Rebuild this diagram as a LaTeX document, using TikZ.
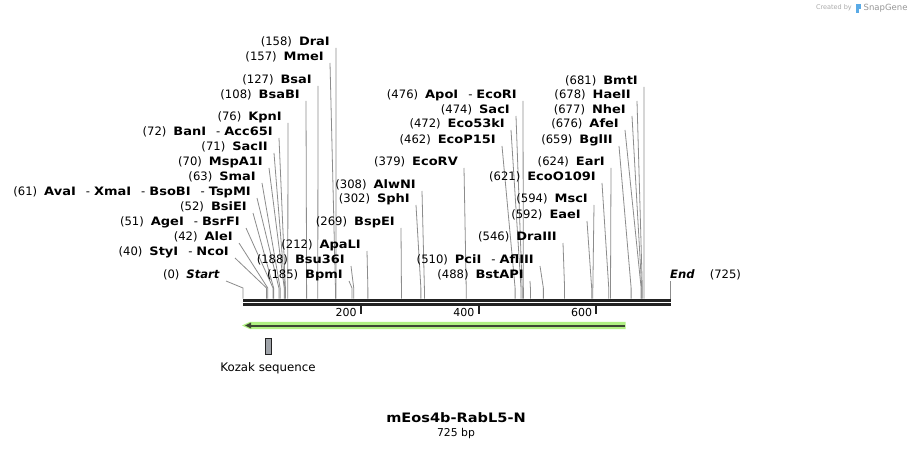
\documentclass[tikz,border=0pt]{standalone}
\usepackage{fontspec}
\setmainfont{DejaVu Sans}[BoldFeatures={FakeStretch=1.12}]
\usetikzlibrary{calc}
\definecolor{conncol}{RGB}{140,140,140}
\definecolor{rulercol}{RGB}{34,34,34}
\definecolor{featgreen}{RGB}{176,240,130}
\definecolor{featdark}{RGB}{60,70,50}
\definecolor{kozakfill}{RGB}{160,164,170}
\definecolor{sgblue}{RGB}{90,170,230}
\definecolor{wmlight}{RGB}{170,170,170}
\definecolor{wmdark}{RGB}{150,150,150}
\tikzset{
  lbl/.style={anchor=east, inner sep=0pt, font=\fontsize{11.6}{13}\selectfont, text=black},
  conn/.style={draw=conncol, line width=0.8pt},
  rulerline/.style={draw=rulercol, line width=2.6pt},
  tickline/.style={draw=rulercol, line width=2pt},
  ticklbl/.style={anchor=east, inner sep=0pt, font=\fontsize{11}{13}\selectfont},
}
\newcommand\enz[5]{%
  \node[lbl] (#1) at (#2,#3) {#5};
  \pgfmathsetmacro\sitex{243+#4*0.588966}
  \coordinate (#1s) at (\sitex,288);
  \coordinate (#1b) at (\sitex,298.5);
  \draw[conn] ([shift={(6,6)}]#1.east) -- (#1s) -- (#1b);
}
\newcommand\nm[1]{\textbf{#1}}
\newcommand\sep{\hspace{7pt}}
\newcommand\dsh{\hspace{10pt}-\hspace{4pt}}
\begin{document}
\begin{tikzpicture}[x=1pt,y=-1pt]
\useasboundingbox (0,0) rectangle (913,449);
\fill[white] (0,0) rectangle (913,449);
% ruler
\coordinate (r0) at (243,300.3);
\coordinate (r1) at (670.5,300.3);
\coordinate (q0) at (243,304.6);
\coordinate (q1) at (670.5,304.6);
\draw[rulerline] (r0) -- (r1);
\draw[rulerline] (q0) -- (q1);
% ticks
\foreach \v/\n in {200/t200,400/t400,600/t600}{
  \pgfmathsetmacro\tx{243+\v*0.588966}
  \coordinate (\n a) at (\tx,305.5);
  \coordinate (\n b) at (\tx,313.5);
  \draw[tickline] (\n a) -- (\n b);
  \node[ticklbl] (\n l) at (\tx-4,312) {\v};
}
% enzymes
\enz{DraI}{330}{42}{158}{(158)\sep\nm{DraI}}
\enz{MmeI}{324}{57}{157}{(157)\sep\nm{MmeI}}
\enz{BsaI}{312}{80}{127}{(127)\sep\nm{BsaI}}
\enz{BsaBI}{300}{95}{108}{(108)\sep\nm{BsaBI}}
\enz{KpnI}{282}{117}{76}{(76)\sep\nm{KpnI}}
\enz{BanI}{273}{132}{72}{(72)\sep\nm{BanI}\dsh\nm{Acc65I}}
\enz{SacII}{268}{147}{71}{(71)\sep\nm{SacII}}
\enz{MspAI}{263}{162}{70}{(70)\sep\nm{MspA1I}}
\enz{SmaI}{256}{177}{63}{(63)\sep\nm{SmaI}}
\enz{AvaI}{251}{192}{61}{(61)\sep\nm{AvaI}\dsh\nm{XmaI}\dsh\nm{BsoBI}\dsh\nm{TspMI}}
\enz{BsiEI}{247}{207}{52}{(52)\sep\nm{BsiEI}}
\enz{AgeI}{240}{222}{51}{(51)\sep\nm{AgeI}\dsh\nm{BsrFI}}
\enz{AleI}{233}{237}{42}{(42)\sep\nm{AleI}}
\enz{StyI}{229}{252}{40}{(40)\sep\nm{StyI}\dsh\nm{NcoI}}
\enz{Start}{220}{275}{0}{(0)\sep\textbf{\itshape Start}}
\enz{BpmI}{343}{275}{185}{(185)\sep\nm{BpmI}}
\enz{Bsu}{345}{260}{188}{(188)\sep\nm{Bsu36I}}
\enz{ApaLI}{361}{245}{212}{(212)\sep\nm{ApaLI}}
\enz{BspEI}{395}{222}{269}{(269)\sep\nm{BspEI}}
\enz{SphI}{410}{199}{302}{(302)\sep\nm{SphI}}
\enz{AlwNI}{416}{185}{308}{(308)\sep\nm{AlwNI}}
\enz{EcoRV}{458}{162}{379}{(379)\sep\nm{EcoRV}}
\enz{EcoP}{496}{140}{462}{(462)\sep\nm{EcoP15I}}
\enz{EcoF}{505}{124}{472}{(472)\sep\nm{Eco53kI}}
\enz{SacI}{510}{110}{474}{(474)\sep\nm{SacI}}
\enz{ApoI}{517}{95}{476}{(476)\sep\nm{ApoI}\dsh\nm{EcoRI}}
\enz{BstAPI}{524}{275}{488}{(488)\sep\nm{BstAPI}}
\enz{PciI}{534}{260}{510}{(510)\sep\nm{PciI}\dsh\nm{AflIII}}
\enz{DraIII}{557}{237}{546}{(546)\sep\nm{DraIII}}
\enz{EaeI}{581}{215}{592}{(592)\sep\nm{EaeI}}
\enz{MscI}{588}{199}{594}{(594)\sep\nm{MscI}}
\enz{EcoO}{596}{177}{621}{(621)\sep\nm{EcoO109I}}
\enz{EarI}{605}{162}{624}{(624)\sep\nm{EarI}}
\enz{BglII}{613}{140}{659}{(659)\sep\nm{BglII}}
\enz{AfeI}{619}{124}{676}{(676)\sep\nm{AfeI}}
\enz{NheI}{626}{110}{677}{(677)\sep\nm{NheI}}
\enz{HaeII}{631}{95}{678}{(678)\sep\nm{HaeII}}
\enz{BmtI}{638}{81}{681}{(681)\sep\nm{BmtI}}
% End
\node[lbl, anchor=west] (End) at (670,275) {\textbf{\itshape End}\hspace{15pt}(725)};
\coordinate (Ends) at (670.5,281);
\coordinate (Endb) at (670.5,298.5);
\draw[conn] (Ends) -- (Endb);
% feature arrow
\coordinate (fa) at (625,325.5);
\coordinate (fb) at (250,325.5);
\fill[featgreen] (625.5,321.8) -- (250,321.8) -- (242,325.5) -- (250,329.2) -- (625.5,329.2) -- cycle;
\draw[featdark, line width=2pt] (fa) -- (fb);
\fill[featdark] (245,325.5) -- (251,322.5) -- (251,328.5) -- cycle;
% kozak
\node[draw=rulercol, fill=kozakfill, line width=0.8pt, minimum width=6pt, minimum height=16pt, inner sep=0pt] (koz) at (268.3,346) {};
\node[font=\fontsize{11.8}{14}\selectfont] (kozl) at (268,368) {Kozak sequence};
% title
\node[font=\fontsize{13}{16}\selectfont\bfseries] (title) at (456,418) {mEos4b-RabL5-N};
\node[font=\fontsize{10.8}{12}\selectfont] (bp) at (456,434) {725 bp};
% watermark
\node[anchor=east, inner sep=0pt, text=wmlight, font=\fontsize{6.5}{8}\selectfont] (cb) at (852,8) {Created by};
\fill[sgblue] (856,4) rectangle (861,9.5);
\fill[sgblue] (856,9.5) rectangle (858.5,13);
\node[anchor=west, inner sep=0pt, text=wmdark, font=\fontsize{8.5}{10}\selectfont] (sg) at (863.5,8) {SnapGene};
\end{tikzpicture}
\end{document}
